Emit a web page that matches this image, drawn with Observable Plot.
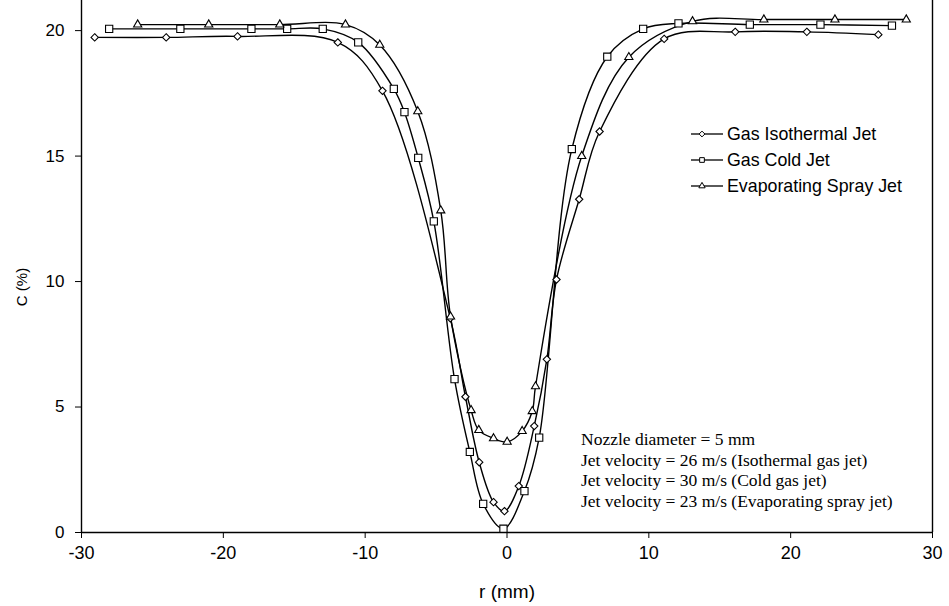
<!DOCTYPE html>
<html><head><meta charset="utf-8">
<script src="https://cdn.jsdelivr.net/npm/d3@7"></script>
<script src="https://cdn.jsdelivr.net/npm/@observablehq/plot@0.6"></script>
<style>
body{margin:0;background:#fff;}
#wrap{position:relative;width:949px;height:606px;font-family:"Liberation Sans",Arial,sans-serif;}
#legend{position:absolute;left:691px;top:121px;font-size:17.8px;color:#000;}
#legend .row{display:flex;align-items:center;height:26px;}
#legend svg{margin-right:4px;}
#note{position:absolute;left:581px;top:429px;font-family:"Liberation Serif","Times New Roman",serif;font-size:17.5px;line-height:20.7px;color:#000;white-space:nowrap;}
#ylab{position:absolute;left:20.5px;top:286.5px;transform:translate(-50%,-50%) rotate(-90deg);font-size:15px;line-height:1;white-space:nowrap;color:#000;}
</style></head><body><div id="wrap"></div>
<script>
// Gas Isothermal Jet
const isoR = [-29.07,-24.03,-19.0,-11.93,-8.78,-4.0,-2.93,-1.96,-0.95,-0.18,0.83,1.92,2.81,3.49,5.09,6.53,11.08,16.09,21.14,26.18];
const isoC = [19.73,19.73,19.77,19.53,17.6,8.54,5.41,2.80,1.21,0.85,1.85,4.24,6.90,10.08,13.28,15.98,19.67,19.95,19.95,19.84];
// Gas Cold Jet
const coldR = [-28.05,-23.03,-18.02,-15.5,-12.99,-10.49,-7.98,-7.23,-6.26,-5.16,-3.70,-2.62,-1.68,-0.25,1.23,2.27,4.57,7.07,9.6,12.09,17.12,22.1,27.14];
const coldC = [20.07,20.07,20.07,20.07,20.07,19.53,17.68,16.75,14.93,12.40,6.11,3.21,1.14,0.15,1.65,3.78,15.28,18.96,20.07,20.29,20.24,20.24,20.2];
// Evaporating Spray Jet
const sprayR = [-26.04,-21.03,-16.02,-11.39,-8.97,-6.29,-4.67,-3.98,-2.53,-1.99,-0.95,0.01,1.07,1.78,2.01,5.27,8.59,13.08,18.11,23.12,28.15];
const sprayC = [20.24,20.24,20.24,20.24,19.43,16.78,12.83,8.6,4.87,4.08,3.75,3.61,4.04,4.83,5.82,15.0,18.94,20.37,20.44,20.44,20.44];

const seriesNames = ["Gas Isothermal Jet","Gas Cold Jet","Evaporating Spray Jet"];
const symbols = ["diamond2","square2","triangle2"];
const xTicks = [-30,-20,-10,0,10,20,30];
const yTicks = [0,5,10,15,20];
const xLabel = "r (mm)";
const yLabel = "C (%)";
const noteLines = [
  "Nozzle diameter = 5 mm",
  "Jet velocity = 26 m/s (Isothermal gas jet)",
  "Jet velocity = 30 m/s (Cold gas jet)",
  "Jet velocity = 23 m/s (Evaporating spray jet)"
];

const mk = (rs, cs) => rs.map((r, i) => ({r, c: cs[i]}));
const iso = mk(isoR, isoC), cold = mk(coldR, coldC), spray = mk(sprayR, sprayC);
const sizes = [3.3, 4.6, 3.9];

const lineOpts = {x: "r", y: "c", curve: "catmull-rom", stroke: "black", strokeWidth: 1.4};
const dotOpts = (i) => ({x: "r", y: "c", symbol: symbols[i], r: sizes[i], fill: "white", stroke: "black", strokeWidth: 1.1});

const plot = Plot.plot({
  width: 949, height: 606,
  marginLeft: 81, marginRight: 17, marginTop: 0, marginBottom: 74,
  style: {fontFamily: '"Liberation Sans", Arial, sans-serif', fontSize: "18px", color: "black", background: "white"},
  x: {domain: [-30, 30]},
  y: {domain: [0, 21.2]},
  marks: [
    Plot.axisX({ticks: xTicks, tickSize: 6, tickPadding: 8, tickFormat: d => String(d), label: null, fontSize: 18}),
    Plot.axisY({ticks: yTicks, tickSize: 6, tickPadding: 11, tickFormat: d => String(d), label: null, fontSize: 17}),
    Plot.text([xLabel], {frameAnchor: "bottom", dy: 65, fontSize: 19}),
    Plot.ruleX([-30, 30], {stroke: "black", strokeWidth: 1.4}),
    Plot.ruleY([0], {stroke: "black", strokeWidth: 1.4}),
    Plot.line(iso, lineOpts),
    Plot.line(cold, lineOpts),
    Plot.line(spray, lineOpts),
    Plot.dot(iso, dotOpts(0)),
    Plot.dot(cold, dotOpts(1)),
    Plot.dot(spray, dotOpts(2))
  ]
});
const wrap = document.getElementById("wrap");
wrap.appendChild(plot);

// Y axis title
const ylab = document.createElement("div");
ylab.id = "ylab";
ylab.textContent = yLabel;
wrap.appendChild(ylab);

// Legend
const legend = document.createElement("div");
legend.id = "legend";
const legendSizes = [2.6, 3.0, 3.0];
seriesNames.forEach((name, i) => {
  const row = document.createElement("div");
  row.className = "row";
  const sw = d3.create("svg").attr("width", 32).attr("height", 14);
  sw.append("line").attr("x1", 0).attr("x2", 32).attr("y1", 7).attr("y2", 7).attr("stroke", "black").attr("stroke-width", 1.3);
  const sym = {diamond2: d3.symbolDiamond2, square2: d3.symbolSquare2, triangle2: d3.symbolTriangle2}[symbols[i]];
  sw.append("path").attr("d", d3.symbol(sym, Math.PI * legendSizes[i] ** 2)()).attr("transform", "translate(11,7)").attr("fill", "white").attr("stroke", "black").attr("stroke-width", 1);
  row.appendChild(sw.node());
  const t = document.createElement("span");
  t.textContent = name;
  row.appendChild(t);
  legend.appendChild(row);
});
wrap.appendChild(legend);

// Annotation
const note = document.createElement("div");
note.id = "note";
noteLines.forEach(l => { const d = document.createElement("div"); d.textContent = l; note.appendChild(d); });
wrap.appendChild(note);
</script></body></html>
